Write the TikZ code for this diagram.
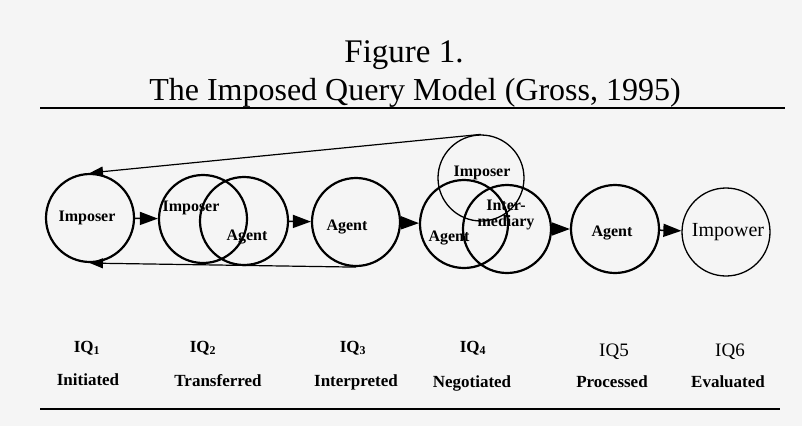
\documentclass[tikz,border=0pt]{standalone}
\usepackage{fontspec}
\setmainfont{Liberation Serif}
\usetikzlibrary{arrows.meta}
\definecolor{paper}{RGB}{245,245,245}
\begin{document}
\begin{tikzpicture}[x=1pt,y=-1pt,
  ring/.style={circle,draw,line width=2.2pt,minimum size=88pt,inner sep=0pt},
  thinring/.style={ring,line width=1.3pt},
  lbl/.style={font=\bfseries\fontsize{16}{16}\selectfont,inner sep=0pt},
  stage/.style={font=\bfseries\fontsize{17}{17}\selectfont,inner sep=0pt,anchor=base},
  hand/.style={font=\fontsize{19}{19}\selectfont,inner sep=0pt,anchor=base},
  flow/.style={line width=1.5pt,-{Triangle[length=18pt,width=13pt]}},
  back/.style={line width=1.2pt,-{Triangle[length=13pt,width=10pt]}},
  rule/.style={line width=2pt}]
\useasboundingbox[fill=paper] (0,0) rectangle (802,426);
% title
\node[anchor=base,inner sep=0pt,font=\fontsize{33}{33}\selectfont] (fig) at (404,62) {Figure 1.};
\node[anchor=base,inner sep=0pt,font=\fontsize{32}{32}\selectfont] (ttl) at (415,100) {The Imposed Query Model (Gross, 1995)};
\coordinate (r1a) at (40,108); \coordinate (r1b) at (785,108);
\coordinate (r2a) at (40,409); \coordinate (r2b) at (780,409);
\draw[rule] (r1a) -- (r1b);
\draw[rule] (r2a) -- (r2b);
% circles
\node[ring] (c1) at (90,218) {};
\node[ring] (c2a) at (203,219) {};
\node[ring] (c2b) at (244,221) {};
\node[ring] (c3) at (356,222) {};
\node[thinring,minimum size=86pt] (c4i) at (481,178) {};
\node[ring] (c4a) at (464,224) {};
\node[ring] (c4m) at (507,229) {};
\node[ring] (c5) at (615,229) {};
\node[thinring] (c6) at (726,232) {};
% circle labels
\node[lbl] (t1) at (87,218) {Imposer};
\node[lbl] (t2a) at (191,208) {Imposer};
\node[lbl] (t2b) at (247,237) {Agent};
\node[lbl] (t3) at (347,227) {Agent};
\node[lbl] (t4i) at (482,173) {Imposer};
\node[lbl] (t4a) at (449,238) {Agent};
\node[lbl,align=center] (t4m) at (506,215) {Inter-\\mediary};
\node[lbl] (t5) at (612,233) {Agent};
\node[hand,anchor=center,font=\fontsize{20}{20}\selectfont] (t6) at (728,232) {Impower};
% flow arrows
\draw[flow] (c1) -- (c2a);
\draw[flow] (c2b) -- (c3);
\draw[flow] (c3) -- (c4a);
\draw[flow] (c4m) -- (c5);
\draw[flow] (c5) -- (c6);
% feedback arrows
\draw[back] (c4i.north) -- (c1.north);
\draw[back] (c3.south) -- (c1.south);
% stage labels
\node[stage] (q1) at (87,352) {IQ\textsubscript{1}};
\node[stage] (q2) at (203,352) {IQ\textsubscript{2}};
\node[stage] (q3) at (353,352) {IQ\textsubscript{3}};
\node[stage] (q4) at (473,352) {IQ\textsubscript{4}};
\node[hand] (q5) at (614,356) {IQ5};
\node[hand] (q6) at (730,356) {IQ6};
\node[stage] (s1) at (88,385) {Initiated};
\node[stage] (s2) at (218,386) {Transferred};
\node[stage] (s3) at (356,386) {Interpreted};
\node[stage] (s4) at (472,387) {Negotiated};
\node[stage] (s5) at (612,387) {Processed};
\node[stage] (s6) at (728,387) {Evaluated};
\end{tikzpicture}
\end{document}
